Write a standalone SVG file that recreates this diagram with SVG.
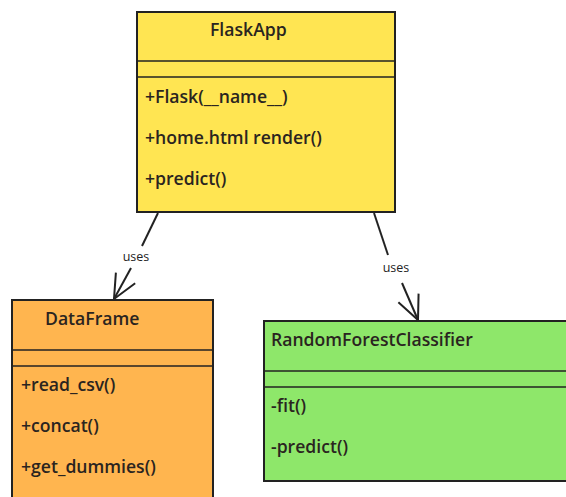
<svg xmlns="http://www.w3.org/2000/svg" width="566" height="497" viewBox="0 0 566 497">
<style>
.box{stroke:#222;stroke-width:2}
.sep{stroke:#222;stroke-width:1.3}
.t{font-family:"Open Sans",Lato,sans-serif;font-size:17.6px;font-weight:600;fill:#2a2420}
.lbl{font-family:"Open Sans",Lato,sans-serif;font-size:12.5px;fill:#222;text-anchor:middle}
.edge{stroke:#222;stroke-width:2;fill:none}
</style>
<defs>
<marker id="arr" viewBox="0 0 26 26" refX="25" refY="13" markerWidth="26" markerHeight="26" markerUnits="userSpaceOnUse" orient="auto">
<path d="M1,2 L25,13 L1,24" fill="none" stroke="#222" stroke-width="2"/>
</marker>
</defs>
<rect width="566" height="497" fill="#fff"/>
<g id="FlaskApp">
<rect class="box" x="137" y="12" width="258" height="200" fill="#FFE552"/>
<line class="sep" x1="137" y1="61" x2="395" y2="61"/>
<line class="sep" x1="137" y1="77" x2="395" y2="77"/>
<text class="t" x="210" y="36">FlaskApp</text>
<text class="t" x="145" y="103">+Flask(__name__)</text>
<text class="t" x="145" y="144">+home.html render()</text>
<text class="t" x="145" y="185">+predict()</text>
</g>
<g id="DataFrame">
<rect class="box" x="12" y="300" width="201" height="210" fill="#FFB54F"/>
<line class="sep" x1="12" y1="350" x2="213" y2="350"/>
<line class="sep" x1="12" y1="366" x2="213" y2="366"/>
<text class="t" x="45" y="325">DataFrame</text>
<text class="t" x="21" y="391">+read_csv()</text>
<text class="t" x="21" y="432">+concat()</text>
<text class="t" x="21" y="473">+get_dummies()</text>
</g>
<g id="RandomForestClassifier">
<rect class="box" x="264" y="321" width="320" height="160" fill="#8EE76A"/>
<line class="sep" x1="264" y1="371" x2="584" y2="371"/>
<line class="sep" x1="264" y1="387" x2="584" y2="387"/>
<text class="t" x="271" y="346">RandomForestClassifier</text>
<text class="t" x="271" y="412">-fit()</text>
<text class="t" x="271" y="453">-predict()</text>
</g>
<g id="connectors">
<line class="edge" x1="158" y1="213" x2="142" y2="246"/>
<path class="edge" d="M131,268 L114,299" marker-end="url(#arr)"/>
<text class="lbl" x="136" y="261">uses</text>
<line class="edge" x1="374" y1="213" x2="388" y2="255"/>
<path class="edge" d="M402,283 L418,320" marker-end="url(#arr)"/>
<text class="lbl" x="396" y="272">uses</text>
</g>
</svg>
